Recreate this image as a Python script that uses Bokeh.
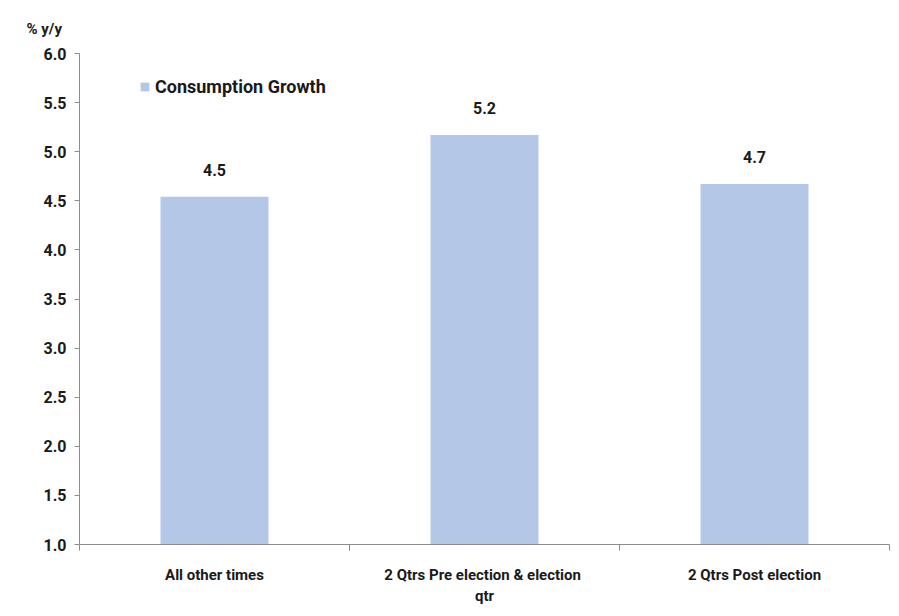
from bokeh.plotting import figure
from bokeh.models import ColumnDataSource, FixedTicker, Range1d, Legend, LegendItem, NumeralTickFormatter
from bokeh.core.properties import value
from bokeh.embed import file_html
from bokeh.resources import INLINE

categories = ["All other times", "2 Qtrs Pre election & election qtr", "2 Qtrs Post election"]
tick_labels = ["All other times", "2 Qtrs Pre election  & election\nqtr", "2 Qtrs Post election"]
consumption_growth = [4.54, 5.17, 4.67]
y_ticks = [1.0, 1.5, 2.0, 2.5, 3.0, 3.5, 4.0, 4.5, 5.0, 5.5, 6.0]
series_name = "Consumption Growth"
y_title = "% y/y"

FONT = "Roboto"
BAR = "#b4c7e7"
TXT = "#1a1a1a"
AX = "#8c8c8c"

xs = [i + 0.5 for i in range(len(categories))]
src = ColumnDataSource(dict(
    x=xs, top=consumption_growth,
    lbl=[f"{v:.1f}" for v in consumption_growth],
))

p = figure(width=891, height=608, output_backend="svg", toolbar_location=None,
           x_range=Range1d(0, len(categories)), y_range=Range1d(y_ticks[0], y_ticks[-1]),
           min_border_left=79, min_border_right=2, min_border_top=53, min_border_bottom=63)
p.outline_line_color = None
p.xgrid.visible = False
p.ygrid.visible = False

r = p.vbar(x="x", top="top", bottom=y_ticks[0], width=0.4, source=src,
           fill_color=BAR, line_color=None)
p.text(x="x", y="top", text="lbl", source=src, text_align="center",
       text_baseline="bottom", y_offset=-21, text_font=value(FONT),
       text_font_style="bold", text_font_size="16px", text_color=TXT)

# y axis
ya = p.yaxis[0]
ya.ticker = FixedTicker(ticks=y_ticks)
ya.formatter = NumeralTickFormatter(format="0.0")
ya.axis_line_color = AX
ya.major_tick_line_color = AX
ya.major_tick_in = 0
ya.major_tick_out = 5
ya.minor_tick_line_color = None
ya.major_label_text_font = FONT
ya.major_label_text_font_style = "bold"
ya.major_label_text_font_size = "16px"
ya.major_label_text_color = TXT
ya.major_label_standoff = 8

# x axis
xa = p.xaxis[0]
xa.ticker = FixedTicker(ticks=xs, minor_ticks=list(range(len(categories) + 1)))
xa.major_label_overrides = {x: t for x, t in zip(xs, tick_labels)}
xa.axis_line_color = AX
xa.major_tick_line_color = None
xa.minor_tick_line_color = AX
xa.minor_tick_in = 0
xa.minor_tick_out = 6
xa.major_label_text_font = FONT
xa.major_label_text_font_style = "bold"
xa.major_label_text_font_size = "15px"
xa.major_label_text_color = TXT
xa.major_label_standoff = 15

# unit label above the y axis
p.title.text = y_title
p.title.align = "left"
p.title.offset = -53
p.title.standoff = 31
p.title.text_font = FONT
p.title.text_font_style = "bold"
p.title.text_font_size = "15px"
p.title.text_color = TXT

legend = Legend(items=[LegendItem(label=series_name, renderers=[r])],
                location=(60, 447), orientation="vertical")
legend.glyph_width = 11
legend.glyph_height = 11
legend.padding = 0
legend.margin = 0
legend.spacing = 0
legend.label_standoff = 5
legend.border_line_color = None
legend.background_fill_alpha = 0
legend.label_text_font = FONT
legend.label_text_font_style = "bold"
legend.label_text_font_size = "18px"
legend.label_text_color = TXT
p.add_layout(legend, "center")

open("out.html", "w").write(file_html(p, INLINE))
